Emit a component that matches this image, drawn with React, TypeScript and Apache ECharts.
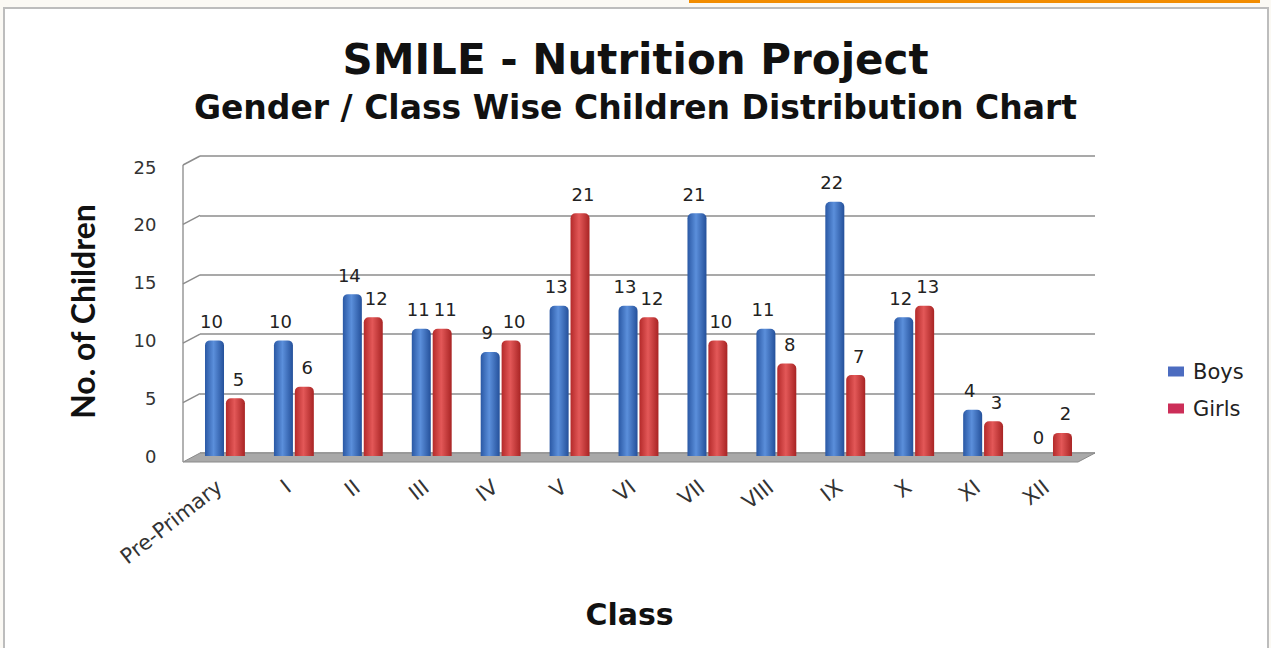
import React, { useEffect, useRef } from "react";
import * as echarts from "echarts";

const categories = ["Pre-Primary", "I", "II", "III", "IV", "V", "VI", "VII", "VIII", "IX", "X", "XI", "XII"];
const boys = [10, 10, 14, 11, 9, 13, 13, 21, 11, 22, 12, 4, 0];
const girls = [5, 6, 12, 11, 10, 21, 12, 10, 8, 7, 13, 3, 2];
const yTicks = [0, 5, 10, 15, 20, 25];
const titleText = "SMILE - Nutrition Project";
const subtitleText = "Gender / Class Wise Children Distribution Chart";

export default function App() {
  const ref = useRef<HTMLDivElement>(null);
  useEffect(() => {
    document.body.style.margin = "0";
    const chart = echarts.init(ref.current!, null, { renderer: "svg" });
    const blueGrad = new echarts.graphic.LinearGradient(0, 0, 1, 0, [
      { offset: 0, color: "#2a58a4" },
      { offset: 0.45, color: "#5b8fdb" },
      { offset: 1, color: "#24509a" },
    ]);
    const redGrad = new echarts.graphic.LinearGradient(0, 0, 1, 0, [
      { offset: 0, color: "#b42a2a" },
      { offset: 0.45, color: "#e35858" },
      { offset: 1, color: "#a82424" },
    ]);
    const wide = "'DejaVu Sans', sans-serif";
    const narrow = "Lato, 'Open Sans', sans-serif";
    const labelBase = {
      show: true,
      position: "top",
      distance: 10,
      fontFamily: wide,
      fontSize: 18,
      color: "#222",
    };
    chart.setOption({
      animation: false,
      backgroundColor: "#fbf9f4",
      title: [
        {
          text: titleText,
          left: "center",
          top: 33,
          textStyle: { fontFamily: wide, fontWeight: "bold", fontSize: 42, color: "#111" },
        },
        {
          text: subtitleText,
          left: "center",
          top: 86,
          textStyle: { fontFamily: wide, fontWeight: "bold", fontSize: 33, color: "#111" },
        },
      ],
      legend: {
        orient: "vertical",
        left: 1163,
        top: 356,
        itemWidth: 16,
        itemHeight: 10,
        itemGap: 16,
        icon: "rect",
        textStyle: { fontFamily: wide, fontSize: 21, color: "#222", padding: [0, 0, 0, 4] },
        data: [
          { name: "Boys", itemStyle: { color: "#4c6cc0" } },
          { name: "Girls", itemStyle: { color: "#cc2e58" } },
        ],
      },
      grid: [
        { left: 200, right: 176, top: 156, bottom: 195 },
        { left: 190.5, right: 184.5, top: 167, bottom: 192 },
      ],
      xAxis: [
        { type: "category", gridIndex: 0, data: categories, show: false },
        {
          type: "category",
          gridIndex: 1,
          data: categories,
          axisLine: { show: false },
          axisTick: { show: false },
          axisLabel: {
            interval: 0,
            rotate: 38,
            fontFamily: wide,
            fontSize: 21,
            color: "#333",
            margin: 24,
            padding: [0, 7, 0, 0],
          },
          name: "Class",
          nameLocation: "middle",
          nameGap: 143,
          nameTextStyle: {
            fontFamily: wide,
            fontWeight: "bold",
            fontSize: 30,
            color: "#111",
            padding: [0, 18, 0, 0],
          },
        },
      ],
      yAxis: [
        {
          type: "value",
          gridIndex: 0,
          min: 0,
          max: 25,
          interval: 5,
          axisLine: { show: false },
          axisTick: { show: false },
          axisLabel: { show: false },
          splitLine: { show: true, lineStyle: { color: "#8c8c8c", width: 1.5 } },
        },
        {
          type: "value",
          gridIndex: 1,
          min: 0,
          max: 25,
          interval: 5,
          axisLine: { show: false },
          axisTick: { show: false },
          splitLine: { show: false },
          axisLabel: { fontFamily: wide, fontSize: 18, color: "#333", margin: 34 },
          name: "No. of Children",
          nameLocation: "middle",
          nameRotate: 90,
          nameGap: 92,
          nameTextStyle: { fontFamily: narrow, fontWeight: "bold", fontSize: 32, color: "#111" },
        },
      ],
      series: [
        {
          name: "Boys",
          type: "bar",
          xAxisIndex: 1,
          yAxisIndex: 1,
          data: boys,
          barWidth: 19,
          barGap: "10%",
          itemStyle: { color: blueGrad, borderRadius: [5, 5, 0, 0] },
          label: { ...labelBase, offset: [-3, 0] },
        },
        {
          name: "Girls",
          type: "bar",
          xAxisIndex: 1,
          yAxisIndex: 1,
          data: girls,
          barWidth: 19,
          barGap: "10%",
          itemStyle: { color: redGrad, borderRadius: [5, 5, 0, 0] },
          label: { ...labelBase, offset: [3, 0] },
        },
      ],
    });

    const backY = yTicks.map((v) => chart.convertToPixel({ yAxisIndex: 0 }, v) as number);
    const depthX = 17;
    const depthY = 9;
    const leftBack = 200;
    const rightBack = 1095;
    const floorY = backY[0];
    const graphics: any[] = [
      {
        type: "rect",
        z: -10,
        shape: { x: 4, y: 8, width: 1264, height: 650 },
        style: { fill: "#ffffff", stroke: "#bdbdbd", lineWidth: 2 },
      },
      {
        type: "rect",
        z: -9,
        shape: { x: 689, y: 0, width: 571, height: 3 },
        style: { fill: "#f28c00" },
      },
      {
        type: "polygon",
        z: 1,
        shape: {
          points: [
            [leftBack - depthX, floorY + depthY],
            [leftBack, floorY],
            [rightBack, floorY],
            [rightBack - depthX, floorY + depthY],
          ],
        },
        style: { fill: "#a9a9a9", stroke: "#8a8a8a", lineWidth: 1 },
      },
      {
        type: "line",
        z: 1,
        shape: { x1: leftBack - depthX, y1: backY[backY.length - 1] + depthY, x2: leftBack - depthX, y2: floorY + depthY },
        style: { stroke: "#999", lineWidth: 1.5 },
      },
    ];
    backY.slice(1).forEach((y) => {
      graphics.push({
        type: "line",
        z: 1,
        shape: { x1: leftBack - depthX, y1: y + depthY, x2: leftBack, y2: y },
        style: { stroke: "#8c8c8c", lineWidth: 1.5 },
      });
    });
    chart.setOption({ graphic: graphics });

    return () => chart.dispose();
  }, []);
  return <div ref={ref} style={{ position: "fixed", left: 0, top: 0, width: 1271, height: 648 }} />;
}
